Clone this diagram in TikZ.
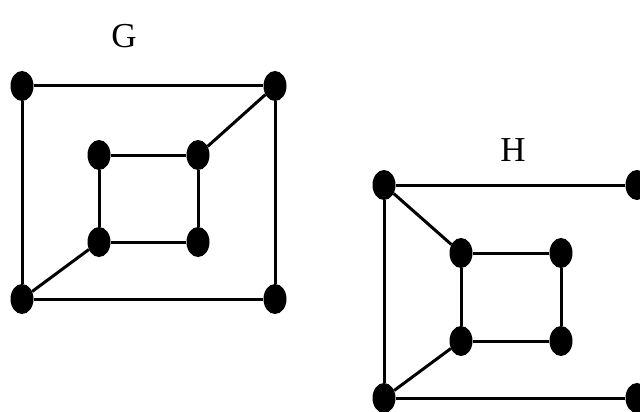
\documentclass[tikz,border=0pt]{standalone}
\usepackage{fontspec}
\setmainfont{Liberation Serif}
\usetikzlibrary{shapes.geometric}

\begin{document}
\begin{tikzpicture}[x = 1pt, y = -1pt,
		vertexDot/.style = {ellipse, fill = black, inner sep = 0pt, minimum width = 23pt, minimum height = 30pt},
		graphEdge/.style = {line width = 3pt},
		graphName/.style = {font = \fontsize{35}{40}\selectfont}]
			\clip (0,0) rectangle (640,412);
			\useasboundingbox (0,0) rectangle (640,412);

			\begin{scope}
				\node [graphName] (labelG) at (124,36) {G};
				\node [vertexDot] (gOuterTL) at (22,86) {};
				\node [vertexDot] (gOuterTR) at (275,86) {};
				\node [vertexDot] (gOuterBL) at (22,299) {};
				\node [vertexDot] (gOuterBR) at (275,299) {};
				\node [vertexDot] (gInnerTL) at (99,155) {};
				\node [vertexDot] (gInnerTR) at (198,155) {};
				\node [vertexDot] (gInnerBL) at (99,242) {};
				\node [vertexDot] (gInnerBR) at (198,242) {};
				\draw [graphEdge] (gOuterTL) -- (gOuterTR) -- (gOuterBR) -- (gOuterBL) -- (gOuterTL);
				\draw [graphEdge] (gInnerTL) -- (gInnerTR) -- (gInnerBR) -- (gInnerBL) -- (gInnerTL);
				\draw [graphEdge] (gOuterTR) -- (gInnerTR);
				\draw [graphEdge] (gOuterBL) -- (gInnerBL);
			\end{scope}

			\begin{scope}
				\node [graphName] (labelH) at (513,150) {H};
				\node [vertexDot] (hOuterTL) at (384,185) {};
				\node [vertexDot] (hOuterTR) at (637,185) {};
				\node [vertexDot] (hOuterBL) at (384,398) {};
				\node [vertexDot] (hOuterBR) at (637,398) {};
				\node [vertexDot] (hInnerTL) at (461,253) {};
				\node [vertexDot] (hInnerTR) at (561,253) {};
				\node [vertexDot] (hInnerBL) at (461,341) {};
				\node [vertexDot] (hInnerBR) at (561,341) {};
				\draw [graphEdge] (hOuterTR) -- (hOuterTL) -- (hOuterBL) -- (hOuterBR);
				\draw [graphEdge] (hInnerTL) -- (hInnerTR) -- (hInnerBR) -- (hInnerBL) -- (hInnerTL);
				\draw [graphEdge] (hOuterTL) -- (hInnerTL);
				\draw [graphEdge] (hOuterBL) -- (hInnerBL);
			\end{scope}
		\end{tikzpicture}
\end{document}
